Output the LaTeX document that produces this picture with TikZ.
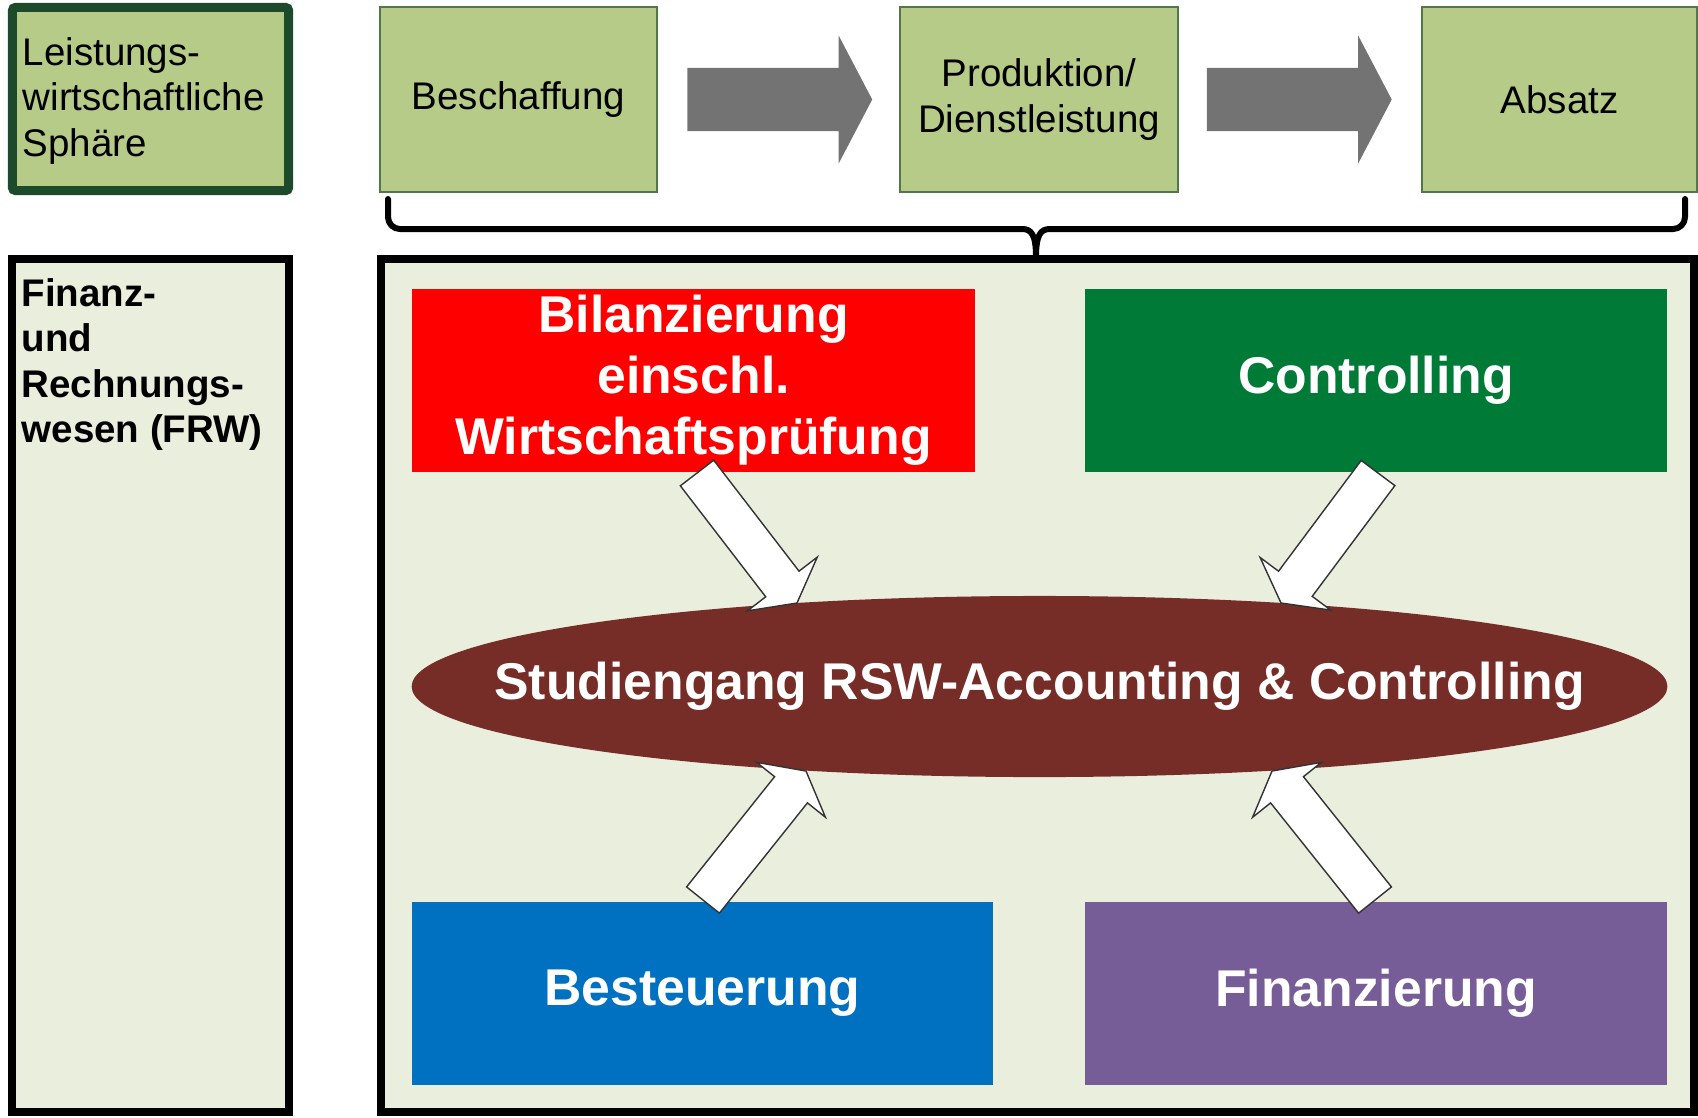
\documentclass[tikz,border=0pt]{standalone}
\usepackage{fontspec}
\setmainfont{Liberation Sans}
\usetikzlibrary{calc,shapes.geometric}
\definecolor{lgreen}{RGB}{183,203,136}
\definecolor{dgreen}{RGB}{30,74,44}
\definecolor{bordgreen}{RGB}{80,120,72}
\definecolor{panel}{RGB}{233,238,221}
\definecolor{ctrlgreen}{RGB}{0,122,55}
\definecolor{taxblue}{RGB}{0,112,192}
\definecolor{finpurple}{RGB}{119,93,151}
\definecolor{ellbrown}{RGB}{119,45,39}
\definecolor{arrgray}{RGB}{115,115,115}
\newcommand\fsnormal{\fontsize{10.95pt}{12.9pt}\selectfont}
\newcommand\fsbig{\fontsize{14.7pt}{17.4pt}\selectfont\bfseries}
% style, from, to, half shaft width, half head width, head length
\newcommand\blockarrow[6]{%
  \coordinate (ba-base) at ($(#3)!#6!(#2)$);
  \draw[#1] ($(#2)!#4!90:(#3)$) -- ($(ba-base)!#4!90:(#3)$) -- ($(ba-base)!#5!90:(#3)$)
    -- (#3) -- ($(ba-base)!#5!-90:(#3)$) -- ($(ba-base)!#4!-90:(#3)$) -- ($(#2)!#4!-90:(#3)$) -- cycle;
}
\begin{document}
\begin{tikzpicture}[x=0.01cm,y=-0.01cm,
  lwsbox/.style={draw=dgreen, line width=0.09cm, fill=lgreen, rounded corners=0.03cm,
    minimum width=2.76cm, minimum height=1.83cm, inner sep=0},
  procbox/.style={draw=bordgreen, line width=0.02cm, fill=lgreen, minimum width=2.77cm,
    minimum height=1.84cm, inner sep=0, font=\fsnormal, align=center},
  panelbox/.style={draw=black, line width=0.08cm, fill=panel, inner sep=0},
  fieldbox/.style={minimum height=1.83cm, inner sep=0, text=white, font=\fsbig, align=center},
  whitearr/.style={fill=white, draw=black!80, line width=0.4pt, line join=miter},
  grayarr/.style={fill=arrgray, draw=black!55, line width=0.4pt},
  bracestyle/.style={draw=black, line width=0.06cm, line cap=round, line join=round}]
\useasboundingbox (0,0) rectangle (1698,1117);

% top row
\node[lwsbox] (lws) at (150.5,99) {};
\node[anchor=north west, inner sep=0, align=left, font=\fsnormal] (lwstext) at (22,37)
  {Leistungs-\\wirtschaftliche\\Sphäre};
\node[procbox] (besch) at (518.5,99.5) {Beschaffung};
\node[procbox] (prod) at (1039,99.5) {Produktion/\\Dienstleistung};
\node[procbox, minimum width=2.75cm] (abs) at (1559.5,99.5) {Absatz};

\coordinate (g1s) at ($(besch.east)+(30,0)$);
\coordinate (g1e) at ($(prod.west)+(-28,0)$);
\coordinate (g2s) at ($(prod.east)+(29,0)$);
\coordinate (g2e) at ($(abs.west)+(-30,0)$);
\blockarrow{grayarr}{g1s}{g1e}{0.31cm}{0.61cm}{0.32cm}
\blockarrow{grayarr}{g2s}{g2e}{0.31cm}{0.61cm}{0.32cm}

% brace
\coordinate (brL) at (388,199);
\coordinate (brR) at (1685,199);
\coordinate (brM) at (1036,257);
\draw[bracestyle] (brL) -- ++(0,18) to[out=-90,in=180] ++(12,12) -- (1022,229)
  .. controls (1031,229) and (1036,234) .. (brM)
  .. controls (1036,234) and (1041,229) .. (1050,229) -- (1673,229)
  to[out=0,in=-90] (1685,217) -- (brR);

% lower panels
\node[panelbox, minimum width=2.77cm, minimum height=8.53cm] (frw) at (150.5,685.5) {};
\node[anchor=north west, inner sep=0, align=left, font=\fsnormal\bfseries] (frwtext) at (21,278)
  {Finanz-\\und\\Rechnungs-\\wesen (FRW)};
\node[panelbox, minimum width=13.13cm, minimum height=8.53cm] (main) at (1037.5,685.5) {};

\node[fieldbox, fill=red, minimum width=5.63cm] (bil) at (693.5,380.5)
  {Bilanzierung\\einschl.\\Wirtschaftsprüfung};
\node[fieldbox, fill=ctrlgreen, minimum width=5.82cm] (con) at (1376,380.5) {Controlling};
\node[fieldbox, fill=taxblue, minimum width=5.81cm] (bes) at (702.5,993.5) {Besteuerung};
\node[fieldbox, fill=finpurple, minimum width=5.82cm] (fin) at (1376,993.5) {Finanzierung};

\node[ellipse, fill=ellbrown, minimum width=12.55cm, minimum height=1.81cm, inner sep=0,
  text=white, font=\fsbig] (ell) at (1039.5,686.5)
  {\makebox[0pt]{Studiengang RSW-Accounting \& Controlling}};

% white arrows
\coordinate (aAs) at (697,473);  \coordinate (aAe) at (797,603);
\coordinate (aBs) at (1378,473); \coordinate (aBe) at (1281,603);
\coordinate (aCs) at (703,900);  \coordinate (aCe) at (806,771);
\coordinate (aDs) at (1375,900); \coordinate (aDe) at (1272,771);
\blockarrow{whitearr}{aAs}{aAe}{0.21cm}{0.44cm}{0.24cm}
\blockarrow{whitearr}{aBs}{aBe}{0.21cm}{0.44cm}{0.24cm}
\blockarrow{whitearr}{aCs}{aCe}{0.21cm}{0.44cm}{0.24cm}
\blockarrow{whitearr}{aDs}{aDe}{0.21cm}{0.44cm}{0.24cm}
\end{tikzpicture}
\end{document}
